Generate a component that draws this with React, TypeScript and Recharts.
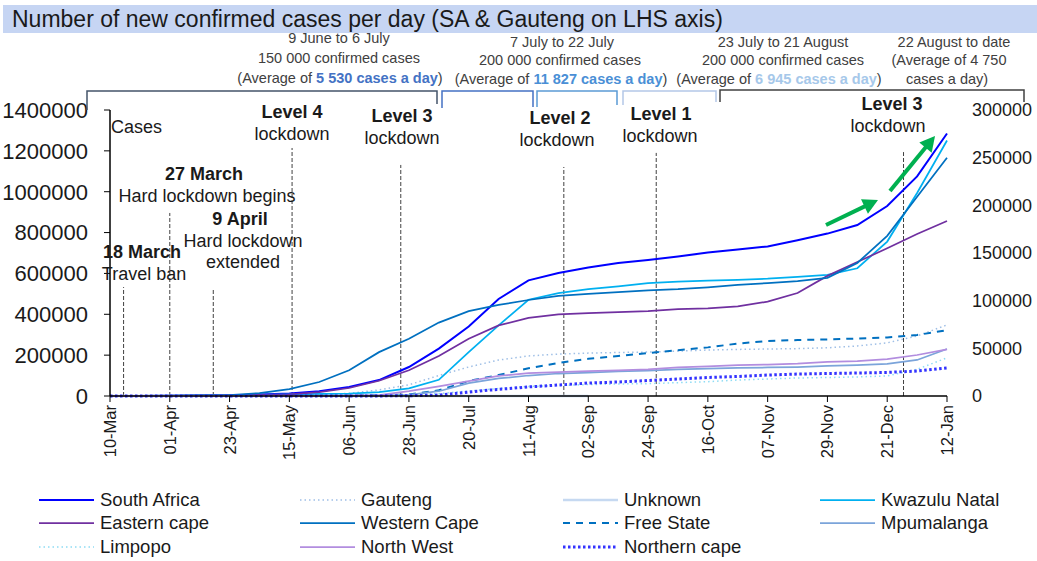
import React from "react";
import { LineChart, Line, XAxis, YAxis, ReferenceLine, Legend } from "recharts";

const FONT = "'Liberation Sans', Arial, sans-serif";

// day index counted from 10 March, one sample every 11 days
const days = [0, 11, 22, 33, 44, 55, 66, 77, 88, 99, 110, 121, 132, 143, 154, 165, 176, 187, 198, 209, 220, 231, 242, 253, 264, 275, 286, 297, 308];

const tickDays = [0, 22, 44, 66, 88, 110, 132, 154, 176, 198, 220, 242, 264, 286, 308];
const tickLabels = ["10-Mar", "01-Apr", "23-Apr", "15-May", "06-Jun", "28-Jun", "20-Jul", "11-Aug", "02-Sep", "24-Sep", "16-Oct", "07-Nov", "29-Nov", "21-Dec", "12-Jan"];

const leftTicks = [0, 200000, 400000, 600000, 800000, 1000000, 1200000, 1400000];
const rightTicks = [0, 50000, 100000, 150000, 200000, 250000, 300000];

// LHS axis
const southAfrica = [7, 240, 1400, 2200, 3900, 7000, 12700, 23000, 44000, 78000, 142000, 232000, 340000, 475000, 566000, 602000, 629000, 651000, 666000, 683000, 702000, 717000, 732000, 762000, 795000, 837000, 930000, 1075000, 1285000];
const gauteng = [0, 150, 650, 1000, 1500, 2500, 4000, 7000, 13000, 30000, 55000, 100000, 142000, 176000, 196000, 205000, 210000, 213000, 215000, 220000, 225000, 228000, 230000, 232000, 236000, 245000, 260000, 294000, 348000];

// RHS axis
const unknown = [0, 0, 0, 0, 0, 0, 0, 0, 0, 0, 0, 0, 0, 0, 0, 0, 0, null, null, null, null, null, null, null, null, null, null, null, null];
const kwazuluNatal = [0, 30, 250, 450, 850, 1100, 1700, 2100, 2500, 4000, 8000, 17000, 46000, 74000, 101000, 108000, 112000, 115000, 118500, 120000, 121000, 121700, 123000, 125000, 127000, 134000, 162000, 213000, 268000];
const easternCape = [0, 5, 100, 300, 600, 1200, 1800, 4000, 8400, 16000, 27000, 42000, 60000, 74000, 82000, 85500, 87000, 88000, 89000, 91000, 92000, 94000, 99000, 108000, 126000, 140500, 155000, 170000, 183500];
const westernCape = [0, 200, 300, 700, 1000, 3000, 7300, 14700, 27000, 46000, 60000, 77000, 89000, 95500, 100700, 105000, 107000, 109000, 110700, 112000, 114000, 116500, 118500, 120600, 124000, 139500, 168000, 209000, 250000];
const freeState = [0, 10, 100, 100, 120, 130, 140, 200, 400, 800, 1500, 6000, 15700, 22000, 29000, 34600, 39000, 42000, 45000, 48000, 51000, 55000, 57700, 58700, 59300, 60300, 61400, 64000, 69000];
const mpumalanga = [0, 0, 10, 20, 20, 40, 70, 100, 150, 400, 1200, 5000, 13600, 18400, 21500, 23600, 24600, 25700, 26700, 27800, 28800, 29400, 29900, 30400, 31500, 32500, 33600, 37800, 49300];
const limpopo = [0, 0, 10, 20, 30, 30, 40, 100, 200, 400, 1000, 2500, 5200, 7900, 10000, 11000, 12000, 12600, 13000, 14000, 15000, 16800, 17800, 18900, 19400, 20000, 21000, 28000, 40000];
const northWest = [0, 0, 20, 30, 40, 40, 100, 200, 400, 900, 5000, 10000, 15700, 21000, 24000, 25000, 26000, 27000, 28000, 30000, 31000, 32500, 33000, 34000, 35700, 36700, 38800, 43000, 49000];
const northernCape = [0, 0, 10, 20, 20, 30, 30, 40, 50, 100, 300, 1000, 4200, 7000, 9500, 11500, 13600, 14700, 16300, 17800, 19400, 20500, 22000, 23000, 23600, 24100, 24700, 26200, 29400];

// event markers (day index, height on LHS axis)
const eventDays = [5, 22, 38, 67, 107, 167, 201, 292];
const eventTops = [533000, 896000, 524000, 1214000, 1131000, 1121000, 1190000, 1194000];

const data = days.map((day, i) => ({
  day,
  southAfrica: southAfrica[i],
  gauteng: gauteng[i],
  unknown: unknown[i],
  kwazuluNatal: kwazuluNatal[i],
  easternCape: easternCape[i],
  westernCape: westernCape[i],
  freeState: freeState[i],
  mpumalanga: mpumalanga[i],
  limpopo: limpopo[i],
  northWest: northWest[i],
  northernCape: northernCape[i],
}));

type SeriesDef = {
  key: string;
  name: string;
  color: string;
  width: number;
  dash?: string;
  axis: "left" | "right";
};

// legend order (row by row, 4 columns)
const series: SeriesDef[] = [
  { key: "southAfrica", name: "South Africa", color: "#0000ff", width: 2, axis: "left" },
  { key: "gauteng", name: "Gauteng", color: "#9fbfe6", width: 1.5, dash: "1.5 3", axis: "left" },
  { key: "unknown", name: "Unknown", color: "#c6d9f1", width: 2.5, axis: "right" },
  { key: "kwazuluNatal", name: "Kwazulu Natal", color: "#00b0f0", width: 1.75, axis: "right" },
  { key: "easternCape", name: "Eastern cape", color: "#7030a0", width: 1.75, axis: "right" },
  { key: "westernCape", name: "Western Cape", color: "#0070c0", width: 1.75, axis: "right" },
  { key: "freeState", name: "Free State", color: "#0070c0", width: 2, dash: "7 6", axis: "right" },
  { key: "mpumalanga", name: "Mpumalanga", color: "#7ba4da", width: 1.75, axis: "right" },
  { key: "limpopo", name: "Limpopo", color: "#8edcf4", width: 1.5, dash: "1.5 3", axis: "right" },
  { key: "northWest", name: "North West", color: "#b28ddf", width: 1.75, axis: "right" },
  { key: "northernCape", name: "Northern cape", color: "#3333ff", width: 3, dash: "2.5 2.5", axis: "right" },
];

const legendCols = [39, 300, 563, 820];
const legendRows = [500, 523, 547];
const LEGEND_TOP = 488;

const LegendGrid = () => (
  <div style={{ position: "relative", width: 1037, height: 72, fontFamily: FONT }}>
    {series.map((s, i) => {
      const col = i % 4;
      const row = Math.floor(i / 4);
      return (
        <div
          key={s.key}
          style={{
            position: "absolute",
            left: legendCols[col],
            top: legendRows[row] - LEGEND_TOP - 12,
            height: 24,
            display: "flex",
            alignItems: "center",
            whiteSpace: "nowrap",
          }}
        >
          <svg width={55} height={24}>
            <line x1={0} y1={12} x2={55} y2={12} stroke={s.color} strokeWidth={s.width} strokeDasharray={s.dash} />
          </svg>
          <span style={{ marginLeft: 6, fontSize: 18.5, color: "#1a1a1a" }}>{s.name}</span>
        </div>
      );
    })}
  </div>
);

const DateTick = (props: any) => {
  const { x, y, payload } = props;
  const label = tickLabels[tickDays.indexOf(payload.value)] ?? "";
  return (
    <text
      x={x}
      y={y}
      transform={`rotate(-90, ${x}, ${y})`}
      textAnchor="end"
      dominantBaseline="central"
      fontSize={16.5}
      fontFamily={FONT}
      fill="#1a1a1a"
    >
      {label}
    </text>
  );
};

// period notes above the chart
const brackets = [
  { d: "M87,110 V91 H437 V104", color: "#44546a" },
  { d: "M442,108 V91 H533 V107", color: "#4472c4" },
  { d: "M537,107 V91 H617 V105", color: "#5b9bd5" },
  { d: "M623,105 V91 H716 V102", color: "#b4c7e7" },
  { d: "M720,102 V90 H1024 V102", color: "#404040" },
];

const eventLabels = [
  { x: 142, y: 252, text: "18 March", bold: true },
  { x: 144, y: 274, text: "Travel ban" },
  { x: 204, y: 174, text: "27 March", bold: true },
  { x: 207, y: 196, text: "Hard lockdown begins" },
  { x: 240, y: 219, text: "9 April", bold: true },
  { x: 243, y: 241, text: "Hard lockdown" },
  { x: 243, y: 262, text: "extended" },
  { x: 292, y: 112, text: "Level 4", bold: true },
  { x: 292, y: 134, text: "lockdown" },
  { x: 402, y: 116, text: "Level 3", bold: true },
  { x: 402, y: 138, text: "lockdown" },
  { x: 560, y: 118, text: "Level 2", bold: true },
  { x: 557, y: 140, text: "lockdown" },
  { x: 661, y: 114, text: "Level 1", bold: true },
  { x: 660, y: 136, text: "lockdown" },
  { x: 892, y: 104, text: "Level 3", bold: true },
  { x: 888, y: 126, text: "lockdown" },
];

const arrows = [
  { x1: 826, y1: 225, x2: 878, y2: 200 },
  { x1: 890, y1: 191, x2: 935, y2: 136 },
];

const Arrow = ({ x1, y1, x2, y2 }: { x1: number; y1: number; x2: number; y2: number }) => {
  const len = Math.hypot(x2 - x1, y2 - y1);
  const ux = (x2 - x1) / len;
  const uy = (y2 - y1) / len;
  const hl = 15;
  const hw = 8;
  const bx = x2 - ux * hl;
  const by = y2 - uy * hl;
  const pts = `${x2},${y2} ${bx - uy * hw},${by + ux * hw} ${bx + uy * hw},${by - ux * hw}`;
  return (
    <g>
      <line x1={x1} y1={y1} x2={bx + ux * 2} y2={by + uy * 2} stroke="#00b050" strokeWidth={4} />
      <polygon points={pts} fill="#00b050" />
    </g>
  );
};

const Notes = () => (
  <svg
    width={1037}
    height={561}
    style={{ position: "absolute", left: 0, top: 0, pointerEvents: "none" }}
    fontFamily={FONT}
  >
    {brackets.map((b, i) => (
      <path key={i} d={b.d} fill="none" stroke={b.color} strokeWidth={1.5} />
    ))}
    <g fontSize={14.5} fill="#404040" textAnchor="middle" dominantBaseline="central" style={{ whiteSpace: "pre" }}>
      <text x={339} y={38}>9 June to 6 July</text>
      <text x={339} y={58}>150 000 confirmed cases</text>
      <text x={340} y={77.5}>
        (Average of <tspan fontWeight="bold" fill="#4472c4">5 530 cases a day</tspan>)
      </text>
      <text x={562} y={42}>7 July to 22 July</text>
      <text x={560} y={60}>200 000 confirmed cases</text>
      <text x={561} y={79}>
        (Average of <tspan fontWeight="bold" fill="#4a8fd6">11 827 cases a day</tspan>)
      </text>
      <text x={783} y={42}>23 July to 21 August</text>
      <text x={783} y={60}>200 000 confirmed cases</text>
      <text x={779} y={79}>
        (Average of <tspan fontWeight="bold" fill="#a6c8ea">6 945  cases a day</tspan>)
      </text>
      <text x={954} y={42}>22 August to date</text>
      <text x={949} y={60}>(Average of 4 750</text>
      <text x={947} y={79}>cases a day)</text>
    </g>
    <g fontSize={18} fill="#1a1a1a" textAnchor="middle" dominantBaseline="central">
      {eventLabels.map((l, i) => (
        <text key={i} x={l.x} y={l.y} fontWeight={l.bold ? "bold" : "normal"}>
          {l.text}
        </text>
      ))}
      <text x={111} y={127} textAnchor="start">Cases</text>
    </g>
    {arrows.map((a, i) => (
      <Arrow key={i} {...a} />
    ))}
  </svg>
);

export default function App() {
  return (
    <div style={{ position: "relative", width: 1037, height: 561, fontFamily: FONT, background: "#fff" }}>
      <style>{"body{margin:0}"}</style>
      <div
        style={{
          position: "absolute",
          left: 3,
          top: 5,
          width: 1034,
          height: 28,
          background: "#c6d5f3",
          fontSize: 23,
          lineHeight: "28px",
          paddingLeft: 9,
          boxSizing: "border-box",
          color: "#1a1a1a",
          whiteSpace: "nowrap",
        }}
      >
        Number of new confirmed cases per day (SA &amp; Gauteng on LHS axis)
      </div>
      <LineChart width={1037} height={561} data={data} margin={{ top: 110, right: 0, bottom: 105, left: 0 }}>
        <XAxis
          type="number"
          dataKey="day"
          domain={[0, 308]}
          ticks={tickDays}
          interval={0}
          tick={<DateTick />}
          tickSize={6}
          tickMargin={3}
          height={60}
          axisLine={{ stroke: "#000", strokeWidth: 1.5 }}
          tickLine={{ stroke: "#000" }}
        />
        <YAxis
          yAxisId="left"
          domain={[0, 1400000]}
          ticks={leftTicks}
          interval={0}
          width={110}
          tickSize={6}
          tickMargin={16}
          tick={{ fontSize: 22, fill: "#1a1a1a", fontFamily: FONT }}
          axisLine={{ stroke: "#000", strokeWidth: 1.5 }}
          tickLine={{ stroke: "#000" }}
        />
        <YAxis
          yAxisId="right"
          orientation="right"
          domain={[0, 300000]}
          ticks={rightTicks}
          interval={0}
          width={90}
          axisLine={false}
          tickLine={false}
          tickSize={6}
          tickMargin={19}
          tick={{ fontSize: 18, fill: "#1a1a1a", fontFamily: FONT }}
        />
        {eventDays.map((d, i) => (
          <ReferenceLine
            key={d}
            yAxisId="left"
            segment={[
              { x: d, y: 0 },
              { x: d, y: eventTops[i] },
            ]}
            stroke="#404040"
            strokeWidth={1}
            strokeDasharray="4 2"
          />
        ))}
        {series.map((s) => (
          <Line
            key={s.key}
            yAxisId={s.axis}
            dataKey={s.key}
            name={s.name}
            type="linear"
            stroke={s.color}
            strokeWidth={s.width}
            strokeDasharray={s.dash}
            dot={false}
            activeDot={false}
            isAnimationActive={false}
          />
        ))}
        <Legend
          layout="horizontal"
          verticalAlign="middle"
          align="center"
          wrapperStyle={{ top: LEGEND_TOP, left: 0, width: 1037, height: 72 }}
          content={() => <LegendGrid />}
        />
      </LineChart>
      <Notes />
    </div>
  );
}
